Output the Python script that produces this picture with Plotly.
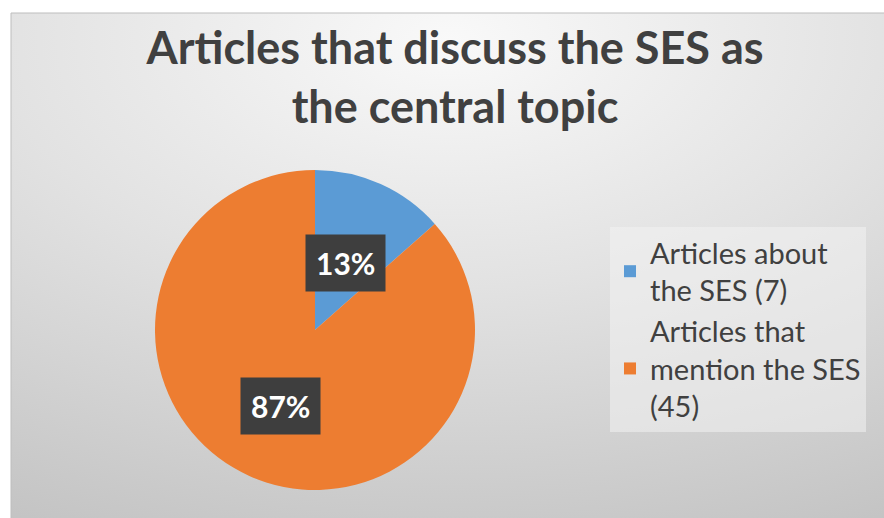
import math
import plotly.graph_objects as go

# Data
categories = ["Articles about<br>the SES (7)", "Articles that<br>mention the SES<br>(45)"]
counts = [7, 45]
colors = ["#5B9BD5", "#ED7D31"]

title_text = "Articles that discuss the SES as<br>the central topic"

# Canvas geometry
W, H = 884, 518
ML, MR, MT, MB = 11, 0, 13, 0
PW, PH = W - ML - MR, H - MT - MB

# Pie placement (pixel circle -> paper domain)
cx_px, cy_px, r_px = 315, 330, 160
dom_x = [(cx_px - r_px - ML) / PW, (cx_px + r_px - ML) / PW]
dom_y = [(H - MB - (cy_px + r_px)) / PH, (H - MB - (cy_px - r_px)) / PH]

fig = go.Figure()

# Soft radial backdrop filling the chart area
gx0, gx1 = -0.642, 1.648
gy0, gy1 = -0.143, 2.037
fig.add_trace(go.Scatter(
    x=[gx0, gx1, gx1, gx0, gx0], y=[gy0, gy0, gy1, gy1, gy0],
    mode="lines", line=dict(width=0), fill="toself",
    fillgradient=dict(type="radial",
                      colorscale=[[0, "#F9F9F9"], [0.45, "#E2E2E2"], [1, "#C2C2C2"]]),
    hoverinfo="skip", showlegend=False,
))

fig.add_trace(go.Pie(
    labels=categories, values=counts, sort=False, direction="clockwise",
    rotation=0, marker=dict(colors=colors, line=dict(width=0)),
    textinfo="none", hoverinfo="label+percent",
    domain=dict(x=dom_x, y=dom_y),
))

# Percentage labels placed along each slice's mid-angle
total = sum(counts)
label_radius = [0.46, 0.52]
annotations = []
start = 0.0
for v, rf in zip(counts, label_radius):
    frac = v / total
    mid = (start + frac / 2) * 2 * math.pi
    start += frac
    px = cx_px + rf * r_px * math.sin(mid)
    py = cy_px - rf * r_px * math.cos(mid)
    annotations.append(dict(
        x=(px - ML) / PW, y=(H - MB - py) / PH, xref="paper", yref="paper",
        xanchor="center", yanchor="middle",
        text=f"<b>{round(frac * 100)}%</b>", showarrow=False,
        font=dict(family="Lato", size=30, color="white"),
        bgcolor="#3E3E3E", borderpad=10,
    ))

fig.update_layout(
    width=W, height=H,
    margin=dict(l=ML, r=MR, t=MT, b=MB, pad=0),
    paper_bgcolor="white", plot_bgcolor="#DADADA",
    xaxis=dict(visible=False, range=[0, 1], fixedrange=True),
    yaxis=dict(visible=False, range=[0, 1], fixedrange=True),
    title=dict(text=title_text, x=455 / W, xanchor="center",
               y=1 - 64 / H, yanchor="middle",
               font=dict(family="Lato", size=45, color="#404040", weight="bold")),
    legend=dict(x=(610 - ML) / PW, xanchor="left", y=(H - 227) / PH, yanchor="top",
                font=dict(family="Lato", size=29, color="#404040"),
                bgcolor="rgba(242,242,242,0.55)", tracegroupgap=0),
    annotations=annotations,
    shapes=[dict(type="rect", xref="paper", yref="paper", x0=0, x1=1.01, y0=-0.01, y1=1,
                 line=dict(color="#BDBDBD", width=1), fillcolor="rgba(0,0,0,0)")],
)

fig.write_html("out.html")
